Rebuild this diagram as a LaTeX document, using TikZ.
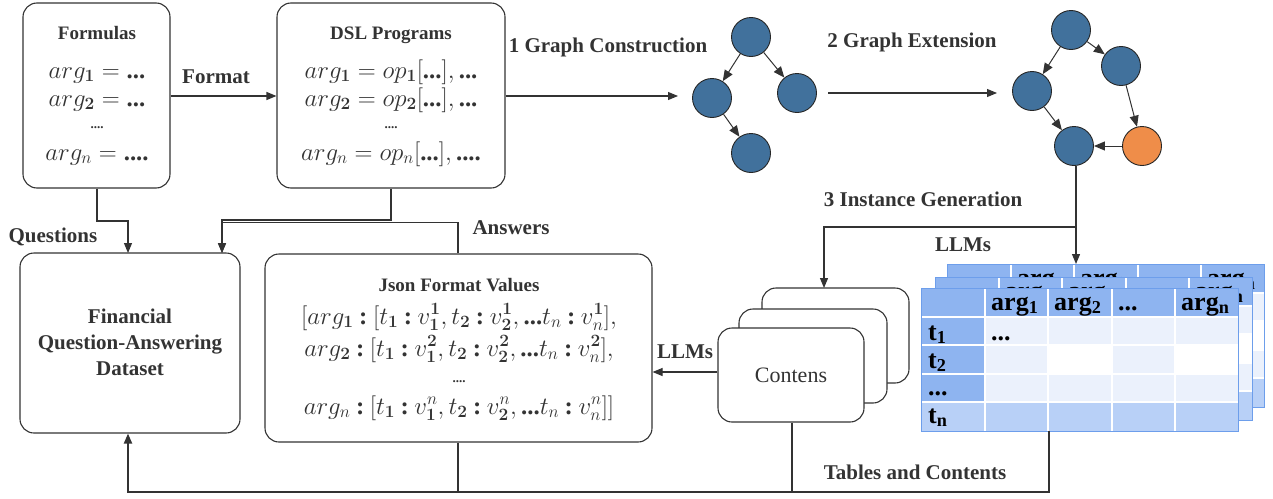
\documentclass[tikz,border=0pt]{standalone}
\usepackage[no-math]{fontspec}
\setmainfont{Liberation Serif}
\usetikzlibrary{arrows.meta,fit}
\DeclareMathSizes{24.88}{24.88}{17.28}{12}
\definecolor{linecol}{HTML}{333333}
\definecolor{nodeblue}{HTML}{41719C}
\definecolor{nodeorange}{HTML}{EF8D49}
\definecolor{hdr}{HTML}{8EB4F0}
\definecolor{cellL}{HTML}{EBF1FC}
\definecolor{tnrow}{HTML}{B8D0F7}
\definecolor{tborder}{HTML}{6D9EEB}
\newcommand{\mydd}{\textbf{...}}
\newcommand{\myddd}{\textbf{....}}
\newcommand{\mycol}{\mathbin{\textbf{:}}}
\newcommand{\tablegrid}{%
  \fill[hdr] (0,0) rectangle (317,29);
  \fill[hdr] (0,29) rectangle (64,114);
  \fill[tnrow] (0,114) rectangle (317,143);
  \fill[cellL] (64,29) rectangle (317,114);
  \fill[white] (127,57) rectangle (191,86);
  \fill[white] (254,57) rectangle (317,86);
  \foreach \x in {64,127,191,254} \draw[white, line width=1.2pt] (\x,0) -- (\x,143);
  \foreach \y in {29,57,86,114} \draw[white, line width=1.2pt] (0,\y) -- (317,\y);
  \draw[tborder, line width=1pt] (0,0) rectangle (317,143);
}
\newcommand{\tablehead}[1]{%
  \node[tabtxt] (#1h1) at (70,22) {arg\textsubscript{1}};
  \node[tabtxt] (#1h2) at (133,22) {arg\textsubscript{2}};
  \node[tabtxt] (#1h3) at (197,22) {...};
  \node[tabtxt] (#1h4) at (260,22) {arg\textsubscript{n}};
}
\begin{document}
\begin{tikzpicture}[x=1pt,y=-1pt,
  line/.style={draw=linecol, line width=1.1pt},
  arr/.style={line, -{Triangle[length=10pt,width=8pt]}},
  rbox/.style={draw=linecol, line width=1.1pt, rounded corners=14pt, fill=white, inner sep=0pt},
  lbl/.style={font=\bfseries\fontsize{21}{24}\selectfont, text=linecol, inner sep=0pt},
  ttl/.style={font=\bfseries\fontsize{19}{22}\selectfont, text=linecol, inner sep=0pt, anchor=base},
  mth/.style={font=\fontsize{24.88}{28}\selectfont, text=linecol, inner sep=0pt, anchor=base},
  big/.style={font=\bfseries\fontsize{21}{24}\selectfont, text=linecol, inner sep=0pt, anchor=base},
  tabtxt/.style={font=\bfseries\fontsize{26}{28}\selectfont, text=black, inner sep=0pt, anchor=base west},
  gn/.style={circle, draw=black!85, line width=0.9pt, fill=nodeblue, minimum size=39pt, inner sep=0pt},
  gedge/.style={draw=linecol, line width=1pt, -{Triangle[length=11pt,width=9pt]}},
]
\useasboundingbox (0,0) rectangle (1273,498);

% ---------- boxes ----------
\node[rbox, fit={(23,3) (170,188)}] (formulas) {};
\node[rbox, fit={(277,3) (505,188)}] (dsl) {};
\node[rbox, fit={(20,253) (240,433)}] (fin) {};
\node[rbox, fit={(265,254) (652,442)}] (json) {};
\node[rbox, fit={(762,288) (909,383)}] (cont3) {};
\node[rbox, fit={(739,309) (887,403)}] (cont2) {};
\node[rbox, fit={(718,328) (864,422)}] (cont1) {};

% ---------- box texts ----------
\node[ttl] (tform) at (97,39) {Formulas};
\node[mth] (f1) at (97,78) {$arg_{\mathbf 1}=\mydd$};
\node[mth] (f2) at (97,106) {$arg_{\mathbf 2}=\mydd$};
\node[mth] (f3) at (97,128) {\textbf{\fontsize{13}{13}\selectfont ....}};
\node[mth] (f4) at (97,160) {$arg_{n}=\myddd$};

\node[ttl] (tdsl) at (391,39) {DSL Programs};
\node[mth] (d1) at (391,78) {$arg_{\mathbf 1}=op_{\mathbf 1}[\mydd],\mydd$};
\node[mth] (d2) at (391,106) {$arg_{\mathbf 2}=op_{\mathbf 2}[\mydd],\mydd$};
\node[mth] (d3) at (391,128) {\textbf{\fontsize{13}{13}\selectfont ....}};
\node[mth] (d4) at (391,160) {$arg_{n}=op_{n}[\mydd],\myddd$};

\node[big] (fin1) at (130,323) {Financial};
\node[big] (fin2) at (130,349) {Question-Answering};
\node[big] (fin3) at (130,375) {Dataset};

\node[ttl] (tjson) at (459,291) {Json Format Values};
\node[mth] (j1) at (459,324) {$[arg_{\mathbf 1}\mycol[t_{\mathbf 1}\mycol v^{\mathbf 1}_{\mathbf 1},t_{\mathbf 2}\mycol v^{\mathbf 1}_{\mathbf 2},\mydd t_n\mycol v^{\mathbf 1}_{n}],$};
\node[mth] (j2) at (459,356) {$arg_{\mathbf 2}\mycol[t_{\mathbf 1}\mycol v^{\mathbf 2}_{\mathbf 1},t_{\mathbf 2}\mycol v^{\mathbf 2}_{\mathbf 2},\mydd t_n\mycol v^{\mathbf 2}_{n}],$};
\node[mth] (j3) at (459,382) {\textbf{\fontsize{13}{13}\selectfont ....}};
\node[mth] (j4) at (459,414) {$arg_{n}\mycol[t_{\mathbf 1}\mycol v^{n}_{\mathbf 1},t_{\mathbf 2}\mycol v^{n}_{\mathbf 2},\mydd t_n\mycol v^{n}_{n}]]$};

\node[font=\fontsize{22}{26}\selectfont, text=linecol, inner sep=0pt] (tcont) at (cont1.center) {Contens};

% ---------- graph 1 ----------
\node[gn] (a1) at (751,37) {};
\node[gn] (a2) at (712,98) {};
\node[gn] (a3) at (797,93) {};
\node[gn] (a4) at (751,153) {};
\draw[gedge] (a1) -- (a2);
\draw[gedge] (a1) -- (a3);
\draw[gedge] (a2) -- (a4);

% ---------- graph 2 ----------
\node[gn] (b1) at (1071,30) {};
\node[gn] (b2) at (1121,66) {};
\node[gn] (b3) at (1032,91) {};
\node[gn] (b4) at (1074,146) {};
\node[gn, fill=nodeorange] (b5) at (1142,146) {};
\draw[gedge] (b1) -- (b3);
\draw[gedge] (b1) -- (b2);
\draw[gedge] (b3) -- (b4);
\draw[gedge] (b2) -- (b5);
\draw[gedge] (b5) -- (b4);

% ---------- tables ----------
\begin{scope}[shift={(947,264)}]\tablegrid\tablehead{tc}\end{scope}
\begin{scope}[shift={(935,277)}]\tablegrid\tablehead{tb}\end{scope}
\begin{scope}[shift={(921,288)}]
  \tablegrid\tablehead{ta}
  \node[tabtxt] (tar1) at (7,52) {t\textsubscript{1}};
  \node[tabtxt] (tar2) at (7,80) {t\textsubscript{2}};
  \node[tabtxt] (tar3) at (7,107) {...};
  \node[tabtxt] (tar4) at (7,135) {t\textsubscript{n}};
  \node[tabtxt] (tac11) at (70,52) {...};
\end{scope}
\coordinate (tabtop) at (1076,264);
\coordinate (tabbot) at (1049,431);

% ---------- connectors ----------
\draw[arr] (formulas.east |- 0,96) -- (dsl.west |- 0,96);
\coordinate (g1in) at (678,96);
\draw[arr] (dsl.east |- 0,96) -- (g1in);
\coordinate (g1out) at (828,93);
\coordinate (g2in) at (997,93);
\draw[arr] (g1out) -- (g2in);

\coordinate (split) at (1076,227);
\draw[arr] (b4.south -| tabtop) -- (tabtop);
\draw[arr] (split) -- (824,227) -- (824,288);

\draw[arr] (formulas.south -| 97,0) -- (97,221) -- (128,221) -- (128,253);
\draw[arr] (dsl.south) -- (391,220) -- (222,220) -- (222,253);
\draw[arr] (json.north -| 458,0) -- (458,222.5) -- (222,222.5) -- (222,253);

\draw[arr] (cont1.west |- 0,372) -- (json.east |- 0,372);

\draw[line] (tabbot) -- (1049,492) -- (792,492);
\draw[line, line width=2pt] (cont1.south -| 792,0) -- (792,492) -- (458,492);
\draw[line] (json.south -| 458,0) -- (458,492);
\draw[arr, line width=2pt] (458,492) -- (128,492) -- (fin.south -| 128,0);

% ---------- labels ----------
\node[lbl] (lformat) at (216,77) {Format};
\node[lbl] (lg1) at (608,47) {1 Graph Construction};
\node[lbl] (lg2) at (912,42) {2 Graph Extension};
\node[lbl] (lg3) at (923,199) {3 Instance Generation};
\node[lbl] (lllm1) at (963,245) {LLMs};
\node[lbl] (lq) at (53,237) {Questions};
\node[lbl] (lans) at (511,228) {Answers};
\node[lbl] (lllm2) at (685,352) {LLMs};
\node[lbl] (ltab) at (915,472) {Tables and Contents};
\end{tikzpicture}
\end{document}
